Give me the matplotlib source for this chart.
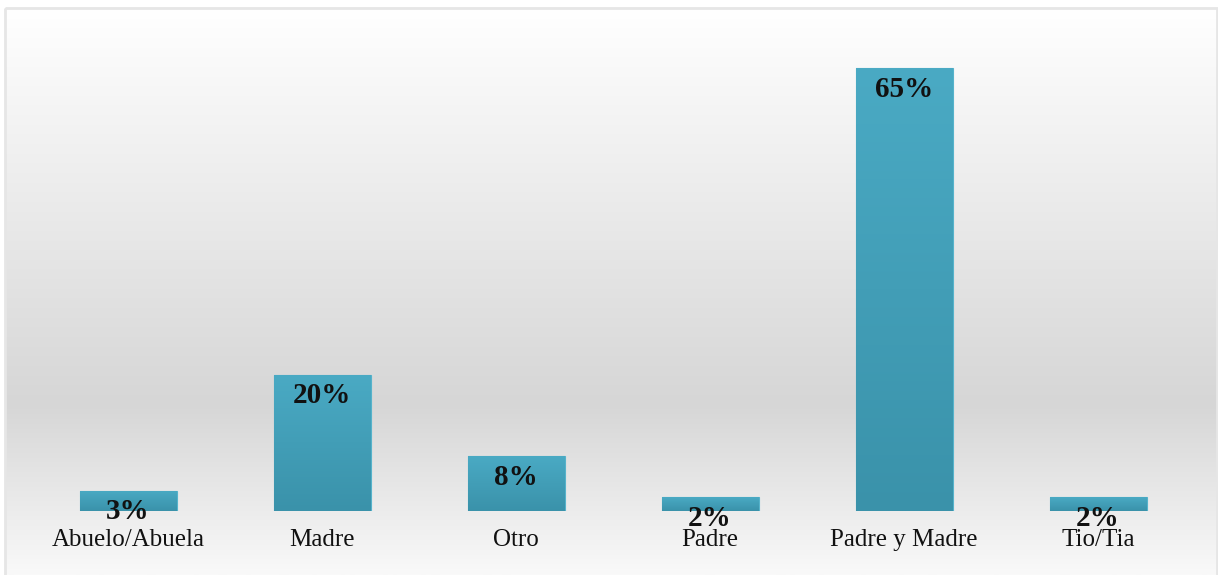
import matplotlib.pyplot as plt
import numpy as np
from matplotlib.colors import LinearSegmentedColormap

# data
categorias = ['Abuelo/Abuela', 'Madre', 'Otro', 'Padre', 'Padre y Madre', 'Tio/Tia']
porcentajes = [3, 20, 8, 2, 65, 2]
etiquetas = ['3%', '20%', '8%', '2%', '65%', '2%']

plt.rcParams['font.family'] = ['Liberation Serif', 'DejaVu Serif']

W, H = 1218, 575
fig = plt.figure(figsize=(W / 100, H / 100), dpi=100)
fig.patch.set_facecolor('white')

# background frame with vertical grey gradient
bg = fig.add_axes([0, 0, 1, 1])
bg.set_xlim(0, W)
bg.set_ylim(H, 0)
bg.axis('off')
bg_cmap = LinearSegmentedColormap.from_list(
    'bg', [(0.0, '#ffffff'), (0.7, '#d6d6d6'), (1.0, '#f9f9f9')])
grad = np.linspace(0, 1, 256).reshape(-1, 1)
bg.imshow(grad, cmap=bg_cmap, extent=[5, 1217, 575, 8], aspect='auto',
          origin='upper', zorder=0)
bg.add_patch(plt.Rectangle((5, 8), 1212, 570, fill=False, edgecolor='#e6e6e6',
                           linewidth=2, zorder=1))

ax = fig.add_axes([31 / W, 64 / H, 1164 / W, 477 / H])
ax.patch.set_alpha(0)
x = np.arange(len(categorias))
bars = ax.bar(x, porcentajes, width=0.5, color='#42a2bb', edgecolor='#56b3cb',
              linewidth=0.8, zorder=2)

# teal gradient inside each bar
bar_cmap = LinearSegmentedColormap.from_list('bar', ['#4aaac4', '#3a92aa'])
for b in bars:
    bx, by = b.get_x(), b.get_y()
    bw, bh = b.get_width(), b.get_height()
    im = ax.imshow(grad, cmap=bar_cmap, extent=[bx, bx + bw, by, by + bh],
                   aspect='auto', origin='upper', zorder=2.5)
    im.set_clip_path(b)

for b, txt in zip(bars, etiquetas):
    ax.annotate(txt, (b.get_x() + b.get_width() / 2, b.get_height()),
                xytext=(0, -5.5), textcoords='offset points', ha='center', va='top',
                fontsize=21, fontweight='bold', color='#111111', zorder=4)

ax.set_xlim(-0.5, len(categorias) - 0.5)
ax.set_ylim(0, 70)
ax.set_xticks(x)
ax.set_xticklabels(categorias, fontsize=18, color='#111111')
ax.tick_params(axis='x', length=0, pad=13)
ax.set_yticks([])
for s in ax.spines.values():
    s.set_visible(False)

fig.savefig('out.png', dpi=100)
